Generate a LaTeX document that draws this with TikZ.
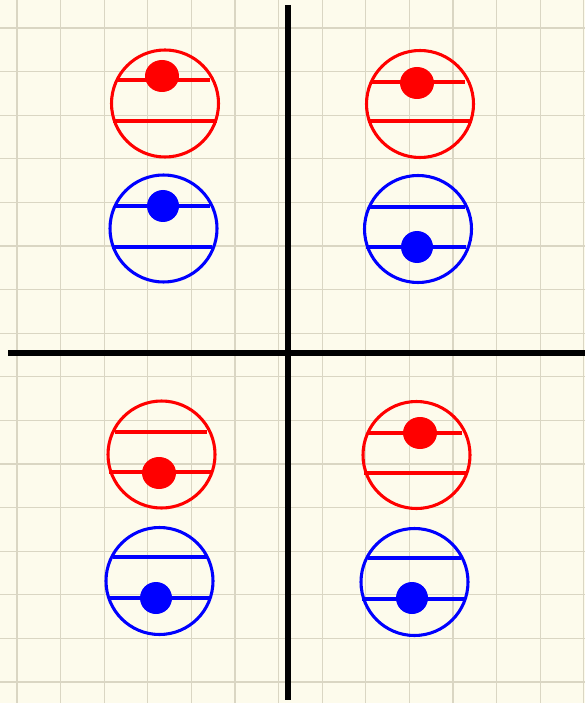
\documentclass[tikz,border=0pt]{standalone}
\definecolor{paper}{HTML}{FDFBEC}
\definecolor{rule}{HTML}{DAD6C3}
\tikzset{
  ring/.style={line width=2pt},
  chord/.style={line width=2pt},
  axisline/.style={line width=3.3pt, black},
  gridline/.style={rule, line width=0.8pt}
}
\begin{document}
\begin{tikzpicture}[x=0.02294cm,y=-0.02294cm]
\fill[paper] (0,0) rectangle (585,703);
\useasboundingbox (0,0) rectangle (585,703);
\foreach \i in {0,...,13} \draw[gridline] (17+43.6*\i,0) -- (17+43.6*\i,703);
\foreach \j in {0,...,15} \draw[gridline] (0,28+43.6*\j) -- (585,28+43.6*\j);

\draw[axisline] (288,5) -- (288,700);
\draw[axisline] (8,353) -- (585,353);

\draw[ring, red] (165,103.5) circle [radius=53.5];
\draw[chord, red] (118,80) -- (210,80);
\draw[chord, red] (113,121) -- (217,121);
\fill[red] (162,76) circle [x radius=17, y radius=16];

\draw[ring, blue] (163.5,228.5) circle [radius=53.5];
\draw[chord, blue] (115,206) -- (210,206);
\draw[chord, blue] (112,247) -- (212,247);
\fill[blue] (163,206) circle [x radius=16, y radius=16];

\draw[ring, red] (420,104) circle [radius=53.5];
\draw[chord, red] (372,82) -- (465,82);
\draw[chord, red] (368,121) -- (472,121);
\fill[red] (417,83) circle [x radius=17, y radius=16];

\draw[ring, blue] (418,229) circle [radius=53.5];
\draw[chord, blue] (370,207) -- (465,207);
\draw[chord, blue] (366,247) -- (466,247);
\fill[blue] (417,247) circle [x radius=16, y radius=16];

\draw[ring, red] (161.5,454.5) circle [radius=53.5];
\draw[chord, red] (115,432) -- (207,432);
\draw[chord, red] (109,472) -- (213,472);
\fill[red] (159,473) circle [x radius=17, y radius=16];

\draw[ring, blue] (159.5,581) circle [radius=53.5];
\draw[chord, blue] (113,557) -- (207,557);
\draw[chord, blue] (108,598) -- (210,598);
\fill[blue] (156,598) circle [x radius=16, y radius=16];

\draw[ring, red] (416.5,455) circle [radius=53.5];
\draw[chord, red] (368,433) -- (462,433);
\draw[chord, red] (364,473) -- (467,473);
\fill[red] (420,433) circle [x radius=17, y radius=16];

\draw[ring, blue] (414.5,582) circle [radius=53.5];
\draw[chord, blue] (368,558) -- (461,558);
\draw[chord, blue] (362,599) -- (466,599);
\fill[blue] (412,598) circle [x radius=16, y radius=16];
\end{tikzpicture}
\end{document}
